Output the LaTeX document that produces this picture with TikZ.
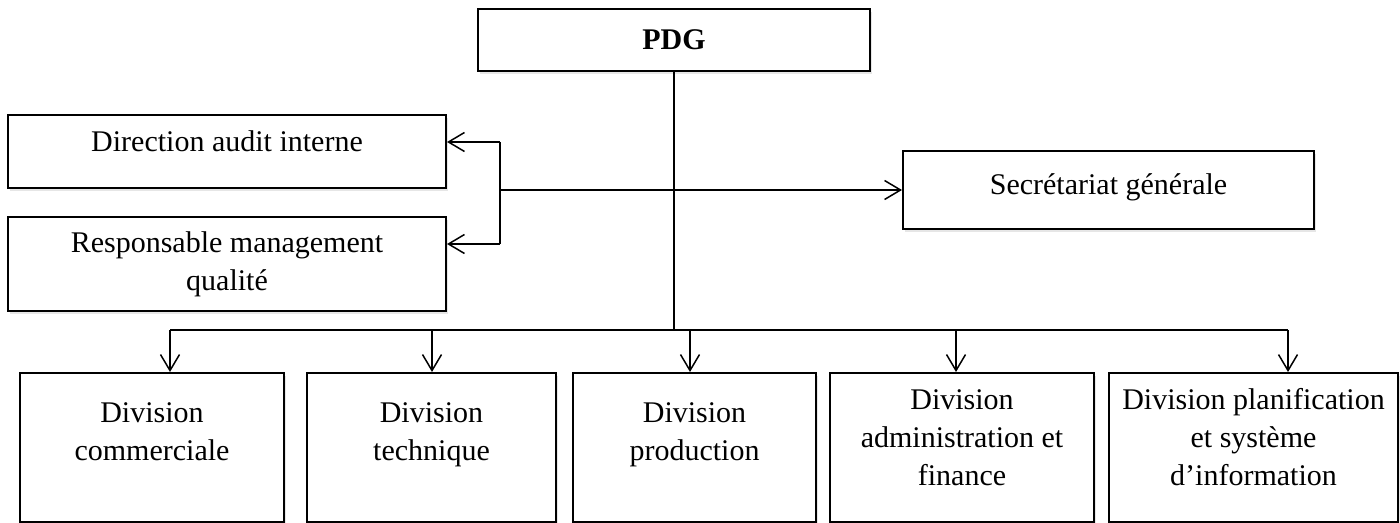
\documentclass[tikz,border=0pt]{standalone}
\usepackage{fontspec}
\setmainfont{Liberation Serif}
\usetikzlibrary{arrows.meta,positioning,shadows}
\tikzset{
  orgbox/.style={draw, line width=1pt, fill=white, inner sep=0pt, align=center,
    drop shadow={shadow xshift=1.2pt, shadow yshift=-1.5pt, opacity=0.2}},
  divbox/.style={orgbox, anchor=north, minimum height=74.5pt},
  divtext/.style={align=center, inner sep=0pt},
  link/.style={line width=0.75pt},
  arr/.style={link, -{Straight Barb[length=8pt,width=9.5pt]}}
}

\begin{document}
\begin{tikzpicture}[x=1pt,y=1pt,font=\fontsize{15}{19}\selectfont]
\useasboundingbox (0,0) rectangle (700,-261.5);
%top box
\node[orgbox, minimum width=196pt, minimum height=31pt] (pdg) at (337,-20) {\bfseries PDG};
%boxes beside the main line
\node[orgbox, minimum width=219pt, minimum height=36.5pt, text height=10pt, text depth=10pt] (audit) at (113.5,-75.75) {Direction audit interne};
\node[orgbox, minimum width=219pt, minimum height=47pt] (qual) at (113.5,-132) {Responsable management\\qualité};
\node[orgbox, minimum width=205.5pt, minimum height=39pt, text height=10pt, text depth=5pt] (sec) at (554.25,-95) {Secrétariat générale};
%division boxes
\node[divbox, minimum width=132pt] (d1) at (76,-186) {};
\node[divtext, below=15pt of d1.north] (t1) {Division\\commerciale};
\node[divbox, minimum width=124.5pt] (d2) at (215.75,-186) {};
\node[divtext, below=15pt of d2.north] (t2) {Division\\technique};
\node[divbox, minimum width=121.5pt] (d3) at (347.25,-186) {};
\node[divtext, below=15pt of d3.north] (t3) {Division\\production};
\node[divbox, minimum width=132pt] (d4) at (481,-186) {};
\node[divtext, below=8.5pt of d4.north] (t4) {Division\\administration et\\finance};
\node[divbox, minimum width=144.5pt] (d5) at (626.75,-186) {};
\node[divtext, below=8pt of d5.north] (t5) {Division planification\\et système\\d’information};
%main line and bus
\coordinate (b1) at (85,-165);
\coordinate (b2) at (216,-165);
\coordinate (b3) at (345,-165);
\coordinate (b4) at (478,-165);
\coordinate (b5) at (644,-165);
\draw[link] (pdg.south) -- (pdg.south |- b1);
\draw[link] (b1) -- (b5);
\foreach \i in {1,...,5}
  \draw[arr] (b\i) -- (b\i |- d\i.north);
%staff links
\coordinate (split) at (250,-95);
\coordinate (ja) at (250,-71);
\coordinate (jq) at (250,-122);
\draw[arr] (split) -- (sec.west);
\draw[link] (ja) -- (jq);
\draw[arr] (ja) -- (ja -| audit.east);
\draw[arr] (jq) -- (jq -| qual.east);
\end{tikzpicture}
\end{document}
